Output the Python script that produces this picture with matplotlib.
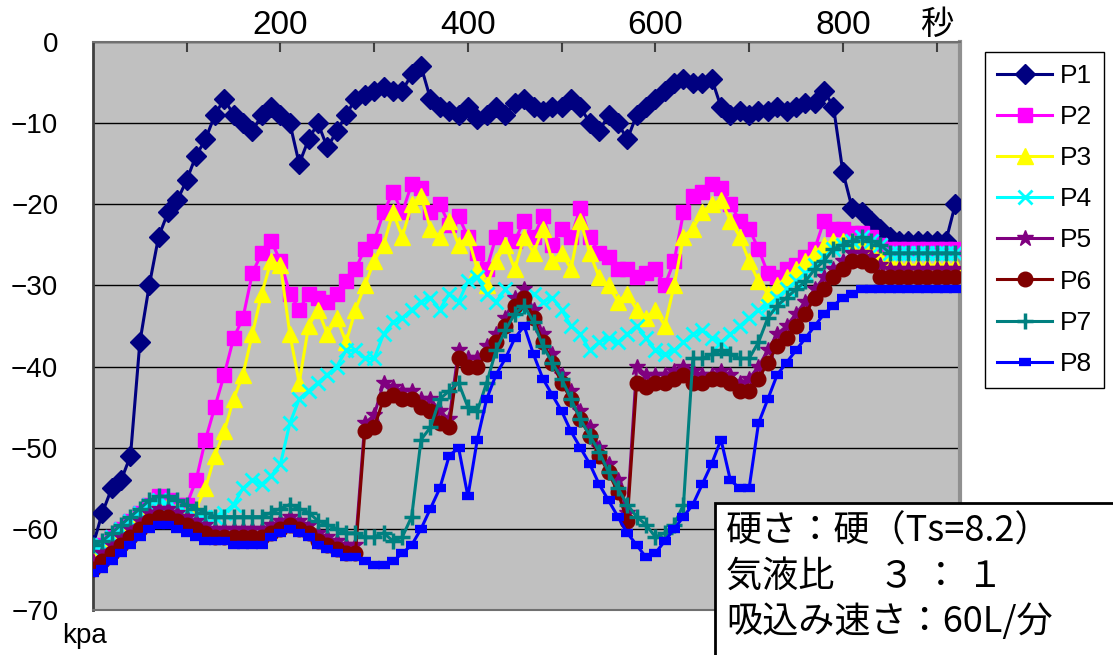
import matplotlib
matplotlib.use("Agg")
import matplotlib.pyplot as plt
from matplotlib.patches import Rectangle

# elapsed time (s), one sample every 10 s
seconds = list(range(0, 930, 10))

p1 = [-62, -58, -55, -54, -51, -37, -30, -24, -21, -19.5,
      -17, -14, -12, -9, -7, -9, -10, -11, -9, -8,
      -9, -10, -15, -12, -10, -13, -11, -9, -7, -6.5,
      -6, -5.5, -6, -6, -4, -3, -7, -8, -8.5, -9,
      -8, -9.5, -9, -8, -9, -7.5, -7, -8, -8.5, -8,
      -8, -7, -8, -10, -11, -9, -10, -12, -9, -8,
      -7, -6, -5, -4.5, -5, -5, -4.5, -8, -9, -8.5,
      -9, -8.5, -8.5, -8, -8.5, -8, -7.5, -7.5, -6, -8,
      -16, -20.5, -21, -22, -23, -24, -24.5, -24.5, -24.5, -24.5,
      -24.5, -24.5, -20]
p2 = [-63, -62, -61, -60, -59, -58, -57, -56, -56.5, -57,
      -57, -54, -49, -45, -41, -36.5, -34, -28.5, -26, -24.5,
      -27, -31, -33, -31, -31.5, -32, -31, -29.5, -28, -25.5,
      -24.5, -21, -18.5, -21, -17.5, -18, -21, -20, -22.5, -21.5,
      -24, -26, -28, -24, -23, -24.5, -22, -24, -21.5, -25,
      -23, -24, -20.5, -24, -26, -26.5, -28, -28, -29, -28.5,
      -28, -30, -27, -21, -19, -18.5, -17.5, -18, -20, -22,
      -23, -25.5, -28.5, -29, -28, -27.5, -26.5, -25.5, -22, -23,
      -23, -23.5, -23.5, -24, -25, -25.5, -25.5, -25.5, -25.5, -25.5,
      -25.5, -25.5, -25.5]
p3 = [-63.5, -62.5, -61.5, -60.5, -59.5, -58.5, -57.5, -57, -57, -57.5,
      -58, -57.5, -55, -51, -48, -44, -41, -36, -31, -27,
      -27.5, -36, -42, -35, -33, -36, -34, -37, -33, -30,
      -27, -25, -21, -24, -20, -19, -23, -24, -22, -25,
      -24, -28, -30, -27, -25, -28, -24, -26, -23, -27,
      -26, -28, -22, -26, -29, -30, -32, -31, -33, -34,
      -33, -35, -30, -24, -23, -21, -20, -19.5, -22, -24,
      -27, -29.5, -31, -30, -29, -28, -27, -26, -25, -24.5,
      -24.5, -24.5, -25, -25.5, -26.5, -27, -27.5, -27.5, -27.5, -27.5,
      -27.5, -27.5, -27.5]
p4 = [-62.5, -62, -61, -60, -59, -58, -57, -56.5, -57, -57.5,
      -58, -58.5, -58.5, -58.5, -58, -57, -55, -54, -54.5, -53.5,
      -52, -47, -44, -43, -42, -41, -40, -38, -38, -39,
      -39, -36, -34.5, -34, -33, -32, -31.5, -33, -31, -32,
      -29.5, -29, -31, -32, -30.5, -32, -33, -31, -32, -31.5,
      -33, -35, -36, -38, -37, -36.5, -37, -36, -35, -36.5,
      -38, -38.5, -38, -37, -36, -35.5, -36.5, -37, -36, -35,
      -34, -33, -32.5, -31.5, -30.5, -29.5, -28.5, -27.5, -26.5, -25.5,
      -25, -24.5, -24, -24.5, -25, -26, -26, -26, -26, -26,
      -26, -26, -26]
p5 = [-64, -63, -62, -61, -60, -59, -58, -57.5, -57.5, -58,
      -58.5, -59, -59.5, -60, -60, -60, -60, -60, -60, -59.5,
      -59, -58.5, -59, -59.5, -60.5, -61, -61.5, -62, -62, -47,
      -46, -42, -42.5, -43, -43, -44, -44, -45.5, -46.5, -38,
      -39, -39, -37.5, -36, -34, -31.5, -30.5, -33, -36, -38.5,
      -41, -43, -45.5, -47.5, -50, -52, -54, -58, -40, -41,
      -41, -41, -40.5, -40, -40.5, -41, -41, -40.5, -41, -42,
      -41.5, -40, -38, -36, -35, -33.5, -32, -30.5, -29, -28,
      -27, -26, -26, -26.5, -27.5, -28, -28, -28, -28, -28,
      -28, -28, -28]
p6 = [-65, -64, -63, -62, -61, -60, -59, -58.5, -58.5, -59,
      -59.5, -60, -60.5, -61, -61, -61, -61, -61, -61, -60.5,
      -60, -59.5, -60, -60.5, -61.5, -62, -62.5, -63, -63, -48,
      -47.5, -44, -43.5, -44, -44, -45, -45.5, -47, -47.5, -39,
      -40, -40, -38.5, -37, -35, -32.5, -31.5, -34, -37, -39.5,
      -42, -44, -46.5, -48.5, -51, -53, -55.5, -59, -42, -42.5,
      -42, -42, -41.5, -41, -42, -42, -41.5, -41.5, -42, -43,
      -43, -41.5, -39.5, -37.5, -36.5, -35, -33.5, -31.5, -30.5, -29,
      -28, -27, -27, -27.5, -29, -29, -29, -29, -29, -29,
      -29, -29, -29]
p7 = [-62, -61.5, -60.5, -59.5, -58.5, -57.5, -56.5, -56, -56, -56.5,
      -57, -57.5, -58, -58.5, -58.5, -58.5, -58.5, -58.5, -58.5, -58,
      -57.5, -57, -57.5, -58, -59, -59.5, -60, -60.5, -60.5, -61,
      -61, -60.5, -61.5, -61, -58.5, -49, -47.5, -44, -43, -42,
      -45, -45.5, -42, -38, -35.5, -33.5, -32.5, -34.5, -37.5, -39.5,
      -41.5, -44, -46.5, -48.5, -50.5, -53, -55, -57, -58.5, -59.5,
      -61, -60.5, -59.5, -57, -39, -39, -38.5, -38, -38.5, -39,
      -39, -37, -34, -32.5, -31.5, -30.5, -29.5, -28, -27, -25.5,
      -25, -24.5, -24, -24.5, -25, -26, -26, -26, -26, -26,
      -26, -26, -26]
p8 = [-65.5, -65, -64, -63, -62, -61, -60, -59.5, -59.5, -60,
      -60.5, -61, -61.5, -61.5, -61.5, -62, -62, -62, -62, -61,
      -60.5, -60, -60.5, -61, -62, -62.5, -63, -63.5, -63.5, -64,
      -64.5, -64.5, -64, -63, -62, -60, -57.5, -55, -51, -50,
      -56, -49, -44, -41, -39, -36.5, -35, -38.5, -41.5, -43.5,
      -45.5, -48, -50, -52, -54.5, -56.5, -58.5, -60.5, -62, -63.5,
      -63, -61.5, -60, -58.5, -57, -54.5, -52, -49, -54, -55,
      -55, -47, -44, -41, -39.5, -38, -36.5, -35, -33.5, -32.5,
      -31.5, -31, -30.5, -30.5, -30.5, -30.5, -30.5, -30.5, -30.5, -30.5,
      -30.5, -30.5, -30.5]

names = ["P1", "P2", "P3", "P4", "P5", "P6", "P7", "P8"]
x_ticks = [100, 200, 300, 400, 500, 600, 700, 800, 900]
x_labels = ["", "200", "", "400", "", "600", "", "800", "秒"]
y_ticks = [-70, -60, -50, -40, -30, -20, -10, 0]
note_lines = ["硬さ：硬（Ts=8.2）", "気液比　 ３ ： １", "吸込み速さ：60L/分"]

colors = ["#000080", "#ff00ff", "#ffff00", "#00ffff", "#800080", "#800000", "#008080", "#0000ff"]
markers = ["D", "s", "^", "x", "*", "o", "+", "_"]
msizes = [10.5, 9.5, 12, 10, 12, 10.5, 12, 9]
mews = [1, 1, 1, 2, 1, 1, 2.5, 6]

W, H = 1113, 655
fig = plt.figure(figsize=(W / 100, H / 100), dpi=100)
ax = fig.add_axes([93 / W, 1 - 610 / H, (960 - 93) / W, (610 - 42) / H])
ax.set_facecolor("#c0c0c0")

series = [p1, p2, p3, p4, p5, p6, p7, p8]
for i, (name, ys) in enumerate(zip(names, series)):
    ax.plot(seconds, ys, color=colors[i], lw=2.2, marker=markers[i], ms=msizes[i],
            mew=mews[i], mfc=colors[i], mec=colors[i], label=name, zorder=3 + i)

ax.set_xlim(0, 925)
ax.set_ylim(-70, 0)
ax.set_yticks(y_ticks)
ax.set_yticklabels([str(v).replace("-", "\u2212") for v in y_ticks],
                   family="Liberation Sans", fontsize=20)
ax.yaxis.grid(True, color="black", lw=1)
ax.set_axisbelow(True)
ax.tick_params(axis="y", length=0, pad=25)

ax.xaxis.tick_top()
ax.set_xticks(x_ticks)
ax.set_xticklabels(x_labels, family=["Liberation Sans", "Noto Sans CJK JP"], fontsize=24)
ax.tick_params(axis="x", direction="in", length=7, width=1.5, color="#404040", pad=1)

for side in ["top", "bottom"]:
    ax.spines[side].set_color("#707070")
    ax.spines[side].set_linewidth(1.5)
ax.spines["left"].set_color("#404040")
ax.spines["left"].set_linewidth(2)
ax.spines["right"].set_color("#909090")
ax.spines["right"].set_linewidth(3)

leg = fig.legend(loc="upper left", bbox_to_anchor=(985 / W, 1 - 52 / H), frameon=True,
                 fancybox=False, edgecolor="black", framealpha=1,
                 prop={"family": "Liberation Sans", "size": 19},
                 handlelength=2.1, handletextpad=0.3, labelspacing=0.65,
                 borderpad=0.45, borderaxespad=0)
leg.get_frame().set_linewidth(1)

fig.text(84 / W, 1 - 636 / H, "kpa", ha="center", va="center", fontsize=20, family="Liberation Sans")

box = Rectangle((715 / W, -0.05), 0.5, 1 - 503 / H + 0.05, transform=fig.transFigure,
                facecolor="white", edgecolor="black", lw=2, clip_on=False, zorder=10)
fig.add_artist(box)
for k, line in enumerate(note_lines):
    fig.text(726 / W, 1 - (532 + 45 * k) / H, line, ha="left", va="center", fontsize=26,
             family=["Noto Sans CJK JP", "DejaVu Sans"], zorder=11)

fig.savefig("out.png", dpi=100)
